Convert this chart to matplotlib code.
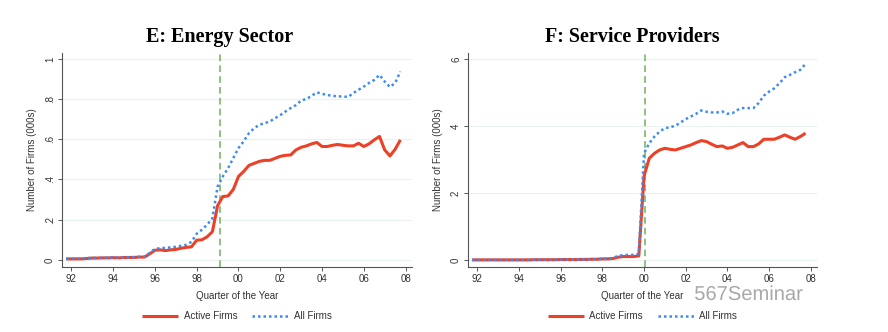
import numpy as np
import matplotlib
matplotlib.use("Agg")
import matplotlib.pyplot as plt
import matplotlib.patheffects as pe

# quarterly observations, 1991q4 .. 2007q4
quarters = np.arange(1991.75, 2007.76, 0.25)

energy_active = [
    0.005,
    0.005, 0.005, 0.005, 0.007,
    0.009, 0.009, 0.010, 0.010,
    0.011, 0.010, 0.012, 0.012,
    0.012, 0.014, 0.014, 0.030,
    0.048, 0.050, 0.046, 0.050,
    0.052, 0.058, 0.062, 0.065,
    0.098, 0.100, 0.115, 0.140,
    0.270, 0.315, 0.318, 0.350,
    0.415, 0.440, 0.470, 0.480,
    0.490, 0.495, 0.495, 0.505,
    0.515, 0.520, 0.522, 0.547,
    0.560, 0.567, 0.577, 0.584,
    0.564, 0.564, 0.570, 0.574,
    0.570, 0.567, 0.567, 0.580,
    0.564, 0.577, 0.597, 0.614,
    0.547, 0.517, 0.550, 0.597,
]
energy_all = [
    0.006,
    0.006, 0.006, 0.007, 0.009,
    0.010, 0.010, 0.011, 0.011,
    0.012, 0.012, 0.013, 0.013,
    0.014, 0.015, 0.016, 0.035,
    0.055, 0.058, 0.060, 0.062,
    0.065, 0.070, 0.075, 0.090,
    0.130, 0.150, 0.175, 0.207,
    0.365, 0.415, 0.456, 0.506,
    0.556, 0.590, 0.630, 0.655,
    0.672, 0.680, 0.688, 0.705,
    0.720, 0.738, 0.755, 0.770,
    0.793, 0.800, 0.816, 0.833,
    0.826, 0.820, 0.816, 0.813,
    0.813, 0.810, 0.830, 0.846,
    0.862, 0.880, 0.895, 0.920,
    0.887, 0.860, 0.880, 0.937,
]
service_active = [
    0.0,
    0.0, 0.0, 0.0, 0.0,
    0.0, 0.0, 0.0, 0.0,
    0.0, 0.0, 0.0, 0.005,
    0.005, 0.005, 0.005, 0.005,
    0.01, 0.01, 0.01, 0.01,
    0.015, 0.015, 0.02, 0.02,
    0.03, 0.03, 0.04, 0.08,
    0.10, 0.10, 0.10, 0.12,
    2.50, 3.03, 3.18, 3.28,
    3.33, 3.30, 3.28, 3.33,
    3.38, 3.43, 3.50, 3.56,
    3.53, 3.45, 3.38, 3.40,
    3.33, 3.36, 3.43, 3.50,
    3.38, 3.38, 3.46, 3.60,
    3.60, 3.60, 3.66, 3.73,
    3.66, 3.60, 3.68, 3.78,
]
service_all = [
    0.0,
    0.0, 0.0, 0.0, 0.0,
    0.0, 0.0, 0.0, 0.0,
    0.0, 0.0, 0.0, 0.005,
    0.005, 0.005, 0.005, 0.005,
    0.01, 0.01, 0.01, 0.01,
    0.015, 0.015, 0.02, 0.02,
    0.03, 0.04, 0.05, 0.12,
    0.14, 0.15, 0.15, 0.18,
    3.18, 3.48, 3.68, 3.83,
    3.93, 3.96, 4.00, 4.10,
    4.20, 4.28, 4.36, 4.46,
    4.42, 4.40, 4.40, 4.43,
    4.36, 4.38, 4.48, 4.53,
    4.53, 4.53, 4.68, 4.90,
    5.02, 5.12, 5.27, 5.45,
    5.52, 5.60, 5.67, 5.85,
]

year_ticks = list(range(1992, 2009, 2))
energy_yticks = [0, 0.2, 0.4, 0.6, 0.8, 1.0]
energy_ylabels = ["0", ".2", ".4", ".6", ".8", "1"]
service_yticks = [0, 2, 4, 6]
service_ylabels = ["0", "2", "4", "6"]

RED = "#ec4126"
BLUE = "#3d8bf2"
GREEN = "#7cb66c"
GRID = "#e9f2ef"

plt.rcParams["font.family"] = ["Liberation Sans", "DejaVu Sans"]

fig = plt.figure(figsize=(8.88, 3.32), dpi=100)
ax_e = fig.add_axes([0.0698, 0.196, 0.394, 0.645])
ax_s = fig.add_axes([0.527, 0.196, 0.393, 0.645])


def draw_panel(ax, title, title_x, active, allf, event, yticks, ylabels, ylim):
    ax.plot(quarters, active, color=RED, lw=2.2, solid_capstyle="butt",
            label="Active Firms", zorder=3)
    ax.plot(quarters, allf, color=BLUE, lw=1.8, linestyle=(0, (1, 1.2)),
            label="All Firms", zorder=4)
    ax.axvline(event, color=GREEN, lw=1.2, linestyle=(0, (4, 2.5)), zorder=2)

    ax.set_xlim(1991.55, 2008.3)
    ax.set_ylim(*ylim)
    ax.set_xticks(year_ticks)
    ax.set_xticklabels([f"{y % 100:02d}" for y in year_ticks])
    ax.set_yticks(yticks)
    ax.set_yticklabels(ylabels, rotation=90, va="center")
    ax.yaxis.grid(True, color=GRID, lw=0.8)
    ax.set_axisbelow(True)

    for side in ("top", "right"):
        ax.spines[side].set_visible(False)
    for side in ("left", "bottom"):
        ax.spines[side].set_color("#555555")
        ax.spines[side].set_linewidth(0.8)
    ax.tick_params(axis="both", labelsize=7, length=3, width=0.7,
                   color="#555555", labelcolor="#333333", pad=2)

    ax.set_xlabel("Quarter of the Year", fontsize=7, color="#333333", labelpad=5)
    ax.set_ylabel("Number of Firms (000s)", fontsize=7, color="#333333", labelpad=6)
    ax.text(title_x, 1.051, title, transform=ax.transAxes, ha="center",
            va="baseline", fontsize=14.5, fontweight="bold",
            family=["Liberation Serif", "DejaVu Serif"])

    ax.legend(loc="center", bbox_to_anchor=(0.5, -0.23), ncol=2,
              frameon=False, fontsize=7, handlelength=3.7, handletextpad=0.6,
              columnspacing=1.5, labelcolor="#333333")


draw_panel(ax_e, "E: Energy Sector", 0.45, energy_active, energy_all, 1999.1,
           energy_yticks, energy_ylabels, (-0.035, 1.03))
draw_panel(ax_s, "F: Service Providers", 0.47, service_active, service_all,
           2000.05, service_yticks, service_ylabels, (-0.21, 6.18))

fig.text(0.904, 0.113, "567Seminar", fontsize=14.5, color="#a8a8a8",
         ha="right", va="center",
         path_effects=[pe.withStroke(linewidth=2.5, foreground="white")])

fig.savefig("out.png", dpi=100, facecolor="white")
